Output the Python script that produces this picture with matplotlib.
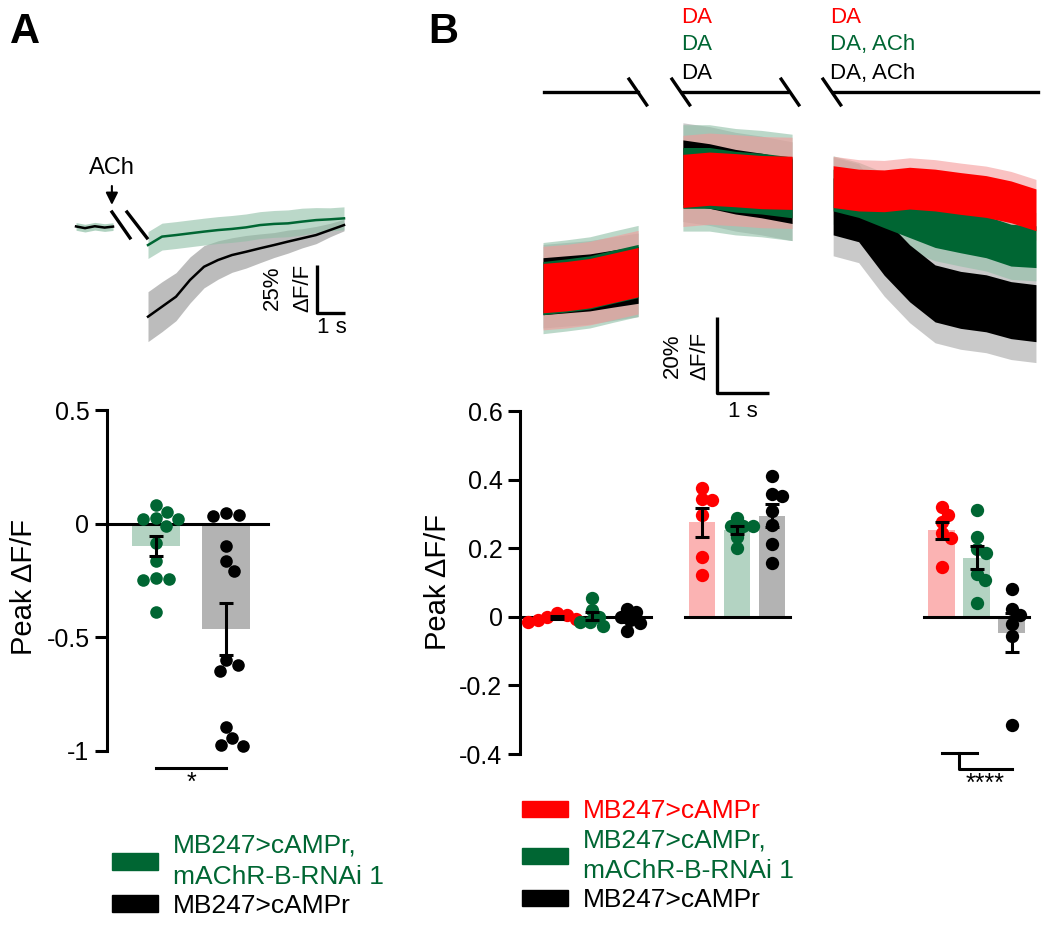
import numpy as np
import matplotlib
matplotlib.use('Agg')
import matplotlib.pyplot as plt
from matplotlib.patches import Patch

# ---------------- data ----------------
# panel A: peak dF/F per fly after ACh
a_rnai = [0.083, 0.053, 0.02, 0.02, 0.025, -0.01, -0.085, -0.165, -0.24, -0.25, -0.245, -0.39]
a_ctrl = [0.04, 0.045, 0.035, -0.1, -0.165, -0.21, -0.62, -0.65, -0.6, -0.895, -0.945, -0.98, -0.975]

# panel A: mean traces (% dF/F) and SEM
a_t_pre = [-2.57, -2.25, -1.9, -1.55, -1.25]
a_pre = [0.3, -0.6, 0.4, -0.3, 0.2]
a_t = [0, 0.5, 1, 1.5, 2, 2.5, 3, 3.5, 4, 4.5, 5, 5.5, 6, 6.5, 7]
a_green_mean = [-9.4, -5.0, -4.2, -3.3, -2.4, -1.6, -1.0, -0.2, 1.0, 1.6, 1.9, 2.8, 3.6, 4.0, 4.5]
a_green_sem = [7, 7, 7, 7, 7, 7, 7, 7, 7, 7, 7, 7, 6.5, 6, 6]
a_black_mean = [-46.7, -41.5, -36.3, -27.6, -20.7, -17.2, -14.6, -12.9, -11.1, -9.4, -7.6, -5.9, -4.2, -1.6, 1.0]
a_black_sem = [13, 13, 12.5, 12, 11, 10, 9, 8.5, 7.5, 6.5, 6, 5, 4.5, 3.5, 3]

# panel B: peak dF/F, groups = baseline, DA, DA(+ACh)
b_red = [[0.01, 0.0, -0.01, -0.015, 0.005, -0.005],
         [0.375, 0.34, 0.343, 0.297, 0.175, 0.122],
         [0.297, 0.319, 0.275, 0.244, 0.23, 0.146]]
b_green = [[0.055, 0.02, 0.0, -0.015, -0.015, -0.027],
           [0.288, 0.265, 0.265, 0.265, 0.234, 0.2],
           [0.31, 0.234, 0.197, 0.187, 0.125, 0.108, 0.04]]
b_black = [[0.023, 0.013, 0.0, -0.01, -0.017, -0.04],
           [0.41, 0.352, 0.357, 0.309, 0.268, 0.212, 0.158],
           [0.08, 0.022, 0.006, -0.02, -0.055, -0.316]]

# panel B: mean traces (% dF/F) in three recording segments
b_t = [[0.0, 0.45, 0.9, 1.35, 1.83],
       [2.69, 3.2, 3.7, 4.2, 4.79],
       [5.58, 6.07, 6.56, 7.05, 7.54, 8.03, 8.52, 9.0, 9.48]]
b_red_tr = [[0.5, 1.0, 1.8, 3.2, 4.7],
            [28.7, 29.3, 28.9, 28.4, 28.2],
            [27.2, 26.3, 26.1, 26.8, 26.3, 25.4, 24.6, 23.2, 21.1]]
b_green_tr = [[0.5, 1.2, 2.0, 3.5, 5.0],
              [29.5, 29.5, 28.5, 28.0, 27.0],
              [26.3, 24.6, 21.9, 19.3, 16.7, 15.3, 14.0, 11.8, 11.4]]
b_black_tr = [[1.0, 1.5, 2.0, 3.0, 4.0],
              [31.0, 30.0, 28.5, 27.5, 26.0],
              [22.0, 20.2, 11.4, 4.4, -0.9, -2.6, -3.5, -5.3, -6.1]]
b_red_sem = [11, 12, 8]
b_green_sem = [12, 14, 9]
b_black_sem = [11, 13, 13]
b_red_noise = [6.5, 7, 5.5]
b_green_noise = [7, 8, 5.5]
b_black_noise = [7.5, 8.5, 7.5]

leg_a = ['MB247>cAMPr,\nmAChR-B-RNAi 1', 'MB247>cAMPr']
leg_b = ['MB247>cAMPr', 'MB247>cAMPr,\nmAChR-B-RNAi 1', 'MB247>cAMPr']

RED, GREEN, BLACK = '#ff0000', '#006633', '#000000'
RED_BAR, GREEN_BAR, GRAY_BAR = '#fbb3b3', '#b3d3c2', '#b3b3b3'
RED_BAND, GREEN_BAND, GRAY_BAND = '#f59a9a', '#8fbfa6', '#a6a6a6'

plt.rcParams.update({'font.family': ['Liberation Sans', 'DejaVu Sans'],
                     'font.size': 16,
                     'axes.linewidth': 2.2,
                     'ytick.major.width': 2.2,
                     'ytick.major.size': 8.6,
                     'ytick.major.pad': 4,
                     'ytick.labelsize': 18})

W, H = 1050, 926
fig = plt.figure(figsize=(W / 100, H / 100), dpi=100)


def fbox(x0, y0, x1, y1):
    return [x0 / W, 1 - y1 / H, (x1 - x0) / W, (y1 - y0) / H]


def lims(ax, box, xref, yref):
    # xref/yref = (pixel, value, pixels per unit)
    x0, y0, x1, y1 = box
    ax.set_xlim(xref[1] + (x0 - xref[0]) / xref[2], xref[1] + (x1 - xref[0]) / xref[2])
    ax.set_ylim(yref[1] - (y1 - yref[0]) / yref[2], yref[1] + (yref[0] - y0) / yref[2])


def swarm(vals, center, xs, ys, d):
    yv = np.asarray(vals) * ys
    off = np.zeros(len(yv))
    placed = []
    for i in np.argsort(-yv):
        cands = [0.0]
        for px, py in placed:
            dy = yv[i] - py
            if abs(dy) < d:
                dx = np.sqrt(d * d - dy * dy)
                cands += [px + dx, px - dx]
        cands.sort(key=abs)
        for c in cands:
            if all((c - px) ** 2 + (yv[i] - py) ** 2 >= d * d - 1e-6 for px, py in placed):
                off[i] = c
                placed.append((c, yv[i]))
                break
    return center + off / xs


def clean(ax):
    for s in ['top', 'right', 'bottom']:
        ax.spines[s].set_visible(False)
    ax.set_xticks([])


# ---------------- panel A bars ----------------
box = (107, 400, 280, 795)
ax = fig.add_axes(fbox(*box), facecolor='none')
lims(ax, box, (156, 0, 70), (410, 0.5, 227.3))
clean(ax)
ax.spines['left'].set_bounds(-1, 0.5)
ax.set_yticks([-1, -0.5, 0, 0.5], ['-1', '-0.5', '0', '0.5'])
ax.plot([ax.get_xlim()[0], 1.6], [0, 0], color='k', lw=2.2, zorder=2, clip_on=False)
for i, (vals, col, bcol) in enumerate([(a_rnai, GREEN, GREEN_BAR), (a_ctrl, BLACK, GRAY_BAR)]):
    v = np.array(vals)
    m, se = v.mean(), v.std(ddof=1) / np.sqrt(len(v))
    ax.bar(i, m, width=0.69, color=bcol, zorder=1)
    ax.scatter(swarm(v, i, 70, 227.3, 13), v, s=82, color=col, lw=0, zorder=3)
    ax.errorbar(i, m, yerr=se, color='k', capsize=5, elinewidth=2.2, capthick=2.2, zorder=4)
ax.plot([0, 1], [-1.075, -1.075], color='k', lw=2.2, clip_on=False)
ax.text(0.5, -1.088, '*', ha='center', va='top', fontsize=18)
fig.text(24 / W, 1 - 587 / H, 'Peak \u0394F/F', rotation=90, ha='center', va='center', fontsize=21)

# ---------------- panel A traces ----------------
box = (60, 140, 360, 345)
at = fig.add_axes(fbox(*box), facecolor='none')
lims(at, box, (148, 0, 28), (227, 0, 1.92))
at.axis('off')
gm, gs = np.array(a_green_mean), np.array(a_green_sem)
km, ks = np.array(a_black_mean), np.array(a_black_sem)
at.fill_between(a_t, km - ks, km + ks, color=GRAY_BAND, alpha=0.75, lw=0)
at.fill_between(a_t, gm - gs, gm + gs, color=GREEN_BAND, alpha=0.6, lw=0)
at.fill_between(a_t_pre, np.array(a_pre) - 2, np.array(a_pre) + 2, color=GREEN_BAND, alpha=0.7, lw=0)
at.plot(a_t, km, color=BLACK, lw=1.8)
at.plot(a_t, gm, color=GREEN, lw=1.8)
at.plot(a_t_pre, a_pre, color=BLACK, lw=1.8)
at.plot([-1.286, -0.643], [7.8, -5.7], color='k', lw=2.4)
at.plot([-0.75, -0.036], [7.8, -5.7], color='k', lw=2.4)
at.annotate('ACh', xy=(-1.29, 11.5), xytext=(-1.29, 30.7), ha='center', va='center', fontsize=17,
            arrowprops=dict(arrowstyle='-|>', color='k', lw=1.5, mutation_scale=18, shrinkA=3, shrinkB=0))
at.plot([6.036, 6.036, 7.036], [-19.8, -44.8, -44.8], color='k', lw=2.4, solid_capstyle='butt')
at.text(6.57, -52.1, '1 s', ha='center', va='center', fontsize=16)
at.text(4.43, -31.8, '25%', rotation=90, ha='center', va='center', fontsize=16)
at.text(5.54, -31.8, '\u0394F/F', rotation=90, ha='center', va='center', fontsize=16)

# ---------------- panel B bars ----------------
box = (520, 400, 1045, 790)
bx = fig.add_axes(fbox(*box), facecolor='none')
lims(bx, box, (520, 0, 35), (411, 0.6, 343))
clean(bx)
bx.spines['left'].set_bounds(-0.4, 0.6)
bx.set_yticks([-0.4, -0.2, 0, 0.2, 0.4, 0.6], ['-0.4', '-0.2', '0', '0.2', '0.4', '0.6'])
b_group_x = [2.05, 6.2, 13.05]
bx.plot([0, b_group_x[0] + 1.7], [0, 0], color='k', lw=2.2, zorder=2)
for gx in b_group_x[1:]:
    bx.plot([gx - 1.5, gx + 1.5], [0, 0], color='k', lw=2.2, zorder=2)
series = [(b_red, RED, RED_BAR), (b_green, GREEN, GREEN_BAR), (b_black, BLACK, GRAY_BAR)]
for g, gx in enumerate(b_group_x):
    for c, (data, col, bcol) in enumerate(series):
        v = np.array(data[g])
        x = gx + c - 1
        m, se = v.mean(), v.std(ddof=1) / np.sqrt(len(v))
        bx.bar(x, m, width=0.77, color=bcol, zorder=1)
        bx.scatter(swarm(v, x, 35, 343, 10), v, s=92, color=col, lw=0, zorder=3)
        bx.errorbar(x, m, yerr=se, color='k', capsize=5, elinewidth=2.2, capthick=2.2, zorder=4)
bx.plot([12.05, 13.05], [-0.397, -0.397], color='k', lw=2.2, clip_on=False)
bx.plot([12.55, 12.55, 14.05], [-0.397, -0.444, -0.444], color='k', lw=2.2, clip_on=False)
bx.text(13.3, -0.452, '****', ha='center', va='top', fontsize=18)
fig.text(438 / W, 1 - 582 / H, 'Peak \u0394F/F', rotation=90, ha='center', va='center', fontsize=21)

# ---------------- panel B traces ----------------
box = (520, 0, 1045, 430)
bt = fig.add_axes(fbox(*box), facecolor='none')
lims(bt, box, (543, 0, 52), (290, 0, 3.8))
bt.axis('off')
trs = [(b_black_tr, b_black_sem, b_black_noise, BLACK, GRAY_BAND),
       (b_green_tr, b_green_sem, b_green_noise, GREEN, GREEN_BAND),
       (b_red_tr, b_red_sem, b_red_noise, RED, RED_BAND)]
for s in range(3):
    t = b_t[s]
    for tr, sem, nz, col, band in trs:
        m = np.array(tr[s])
        bt.fill_between(t, m - sem[s], m + sem[s], color=band, alpha=0.6, lw=0)
    for tr, sem, nz, col, band in trs:
        m = np.array(tr[s])
        bt.fill_between(t, m - nz[s], m + nz[s], color=col, lw=0)
# stimulus line with breaks
stim_y = 52.1
for t0, t1 in [(0.02, 1.83), (2.67, 4.69), (5.58, 9.52)]:
    bt.plot([t0, t1], [stim_y, stim_y], color='k', lw=2.4)
for t0 in [1.654, 2.48, 4.58, 5.385]:
    bt.plot([t0, t0 + 0.34], [55.5, 48.7], color='k', lw=2.4)
for (tx, labs) in [(2.65, ['DA', 'DA', 'DA']), (5.52, ['DA', 'DA, ACh', 'DA, ACh'])]:
    for lab, yy, col in zip(labs, [71.8, 64.5, 57.1], [RED, GREEN, BLACK]):
        bt.text(tx, yy, lab, color=col, ha='left', va='center', fontsize=16)
bt.plot([3.346, 3.346, 4.346], [-7.1, -27.1, -27.1], color='k', lw=2.4, solid_capstyle='butt')
bt.text(3.846, -32.1, '1 s', ha='center', va='center', fontsize=16)
bt.text(2.48, -17.4, '20%', rotation=90, ha='center', va='center', fontsize=16)
bt.text(3.02, -17.4, '\u0394F/F', rotation=90, ha='center', va='center', fontsize=16)

# ---------------- legends & letters ----------------
kw = dict(loc='upper left', frameon=False, fontsize=19, handlelength=1.74, handleheight=0.57,
          handletextpad=0.57, labelspacing=0.2, borderpad=0, borderaxespad=0,
          bbox_transform=fig.transFigure)
la = fig.legend([Patch(color=GREEN), Patch(color=BLACK)], leg_a,
                bbox_to_anchor=(112 / W, 1 - 834 / H), labelcolor=[GREEN, BLACK], **kw)
lb = fig.legend([Patch(color=RED), Patch(color=GREEN), Patch(color=BLACK)], leg_b,
                bbox_to_anchor=(522 / W, 1 - 799 / H), labelcolor=[RED, GREEN, BLACK], **kw)
for lg in (la, lb):
    for txt in lg.get_texts():
        txt.set_linespacing(1.35)

fig.text(10 / W, 1 - 12 / H, 'A', fontsize=30, fontweight='bold', va='top')
fig.text(428 / W, 1 - 12 / H, 'B', fontsize=30, fontweight='bold', va='top')

fig.savefig('out.png', dpi=100)
